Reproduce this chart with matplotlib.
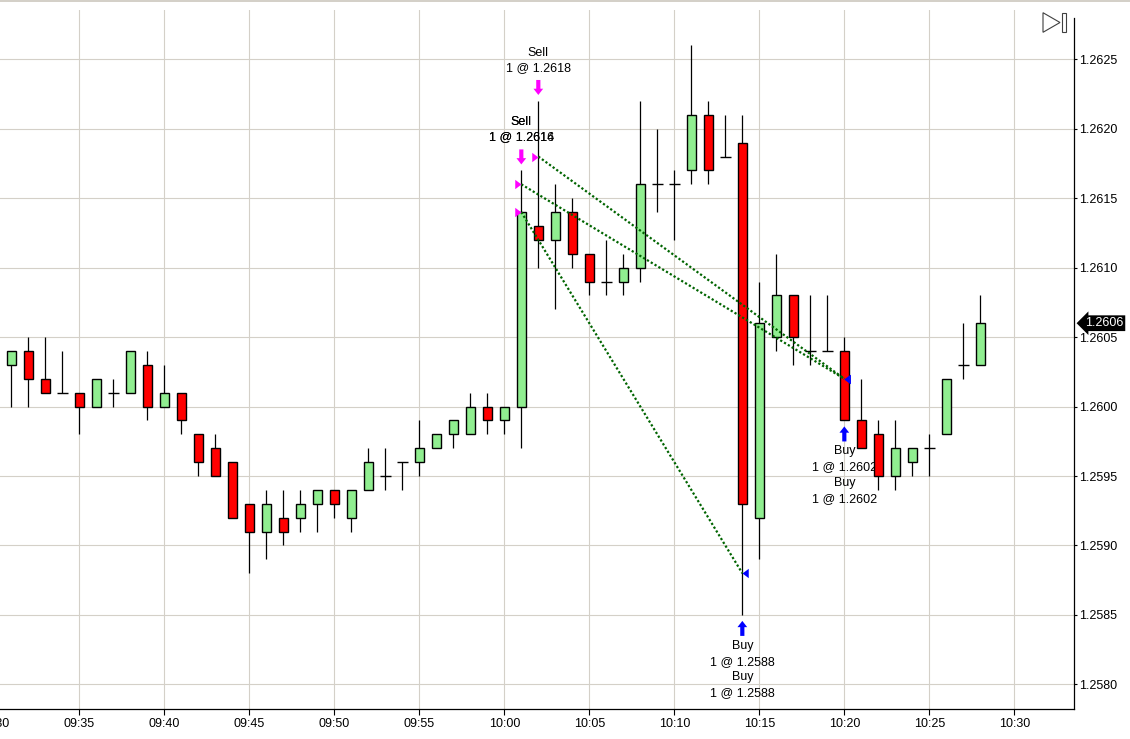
import matplotlib
matplotlib.use('Agg')
import matplotlib.pyplot as plt
from matplotlib import transforms
from matplotlib.patches import Polygon, Rectangle
from matplotlib.ticker import FuncFormatter, FixedLocator

plt.rcParams['font.family'] = ['Liberation Sans', 'DejaVu Sans']

# ---------------- data ----------------
times = ['09:31', '09:32', '09:33', '09:34', '09:35', '09:36', '09:37', '09:38', '09:39', '09:40',
         '09:41', '09:42', '09:43', '09:44', '09:45', '09:46', '09:47', '09:48', '09:49', '09:50',
         '09:51', '09:52', '09:53', '09:54', '09:55', '09:56', '09:57', '09:58', '09:59', '10:00',
         '10:01', '10:02', '10:03', '10:04', '10:05', '10:06', '10:07', '10:08', '10:09', '10:10',
         '10:11', '10:12', '10:13', '10:14', '10:15', '10:16', '10:17', '10:18', '10:19', '10:20',
         '10:21', '10:22', '10:23', '10:24', '10:25', '10:26', '10:27', '10:28']
opens = [1.2603, 1.2604, 1.2602, 1.2601, 1.2601, 1.2600, 1.2601, 1.2601, 1.2603, 1.2600,
         1.2601, 1.2598, 1.2597, 1.2596, 1.2593, 1.2591, 1.2592, 1.2592, 1.2593, 1.2594,
         1.2592, 1.2594, 1.2595, 1.2596, 1.2596, 1.2597, 1.2598, 1.2598, 1.2600, 1.2599,
         1.2600, 1.2613, 1.2612, 1.2614, 1.2611, 1.2609, 1.2609, 1.2610, 1.2616, 1.2616,
         1.2617, 1.2621, 1.2618, 1.2619, 1.2592, 1.2605, 1.2608, 1.2604, 1.2604, 1.2604,
         1.2599, 1.2598, 1.2595, 1.2596, 1.2597, 1.2598, 1.2603, 1.2603]
highs = [1.2604, 1.2605, 1.2605, 1.2604, 1.2601, 1.2602, 1.2602, 1.2604, 1.2604, 1.2603,
         1.2601, 1.2598, 1.2598, 1.2596, 1.2593, 1.2594, 1.2594, 1.2594, 1.2594, 1.2594,
         1.2594, 1.2597, 1.2597, 1.2596, 1.2599, 1.2598, 1.2599, 1.2601, 1.2601, 1.2600,
         1.2617, 1.2622, 1.2616, 1.2615, 1.2611, 1.2612, 1.2611, 1.2622, 1.2620, 1.2617,
         1.2626, 1.2622, 1.2621, 1.2621, 1.2609, 1.2611, 1.2608, 1.2608, 1.2608, 1.2605,
         1.2602, 1.2599, 1.2599, 1.2597, 1.2598, 1.2602, 1.2606, 1.2608]
lows = [1.2600, 1.2600, 1.2601, 1.2601, 1.2598, 1.2600, 1.2600, 1.2601, 1.2599, 1.2600,
        1.2598, 1.2595, 1.2595, 1.2592, 1.2588, 1.2589, 1.2590, 1.2591, 1.2591, 1.2592,
        1.2591, 1.2594, 1.2594, 1.2594, 1.2595, 1.2597, 1.2597, 1.2598, 1.2598, 1.2598,
        1.2597, 1.2610, 1.2607, 1.2610, 1.2608, 1.2608, 1.2608, 1.2609, 1.2614, 1.2612,
        1.2616, 1.2616, 1.2618, 1.2585, 1.2589, 1.2604, 1.2603, 1.2603, 1.2604, 1.2599,
        1.2597, 1.2594, 1.2594, 1.2595, 1.2595, 1.2598, 1.2602, 1.2603]
closes = [1.2604, 1.2602, 1.2601, 1.2601, 1.2600, 1.2602, 1.2601, 1.2604, 1.2600, 1.2601,
          1.2599, 1.2596, 1.2595, 1.2592, 1.2591, 1.2593, 1.2591, 1.2593, 1.2594, 1.2593,
          1.2594, 1.2596, 1.2595, 1.2596, 1.2597, 1.2598, 1.2599, 1.2600, 1.2599, 1.2600,
          1.2614, 1.2612, 1.2614, 1.2611, 1.2609, 1.2609, 1.2610, 1.2616, 1.2616, 1.2616,
          1.2621, 1.2617, 1.2618, 1.2593, 1.2606, 1.2608, 1.2605, 1.2604, 1.2604, 1.2599,
          1.2597, 1.2595, 1.2597, 1.2597, 1.2597, 1.2602, 1.2603, 1.2606]

# trades
entry_times = ['10:01', '10:01', '10:02']
entry_prices = [1.2614, 1.2616, 1.2618]
exit_times = ['10:14', '10:20', '10:20']
exit_prices = [1.2588, 1.2602, 1.2602]

sell_label_times = ['10:01', '10:01', '10:02']
sell_label_prices = [1.2614, 1.2616, 1.2618]
buy_label_times = ['10:14', '10:14', '10:20', '10:20']
buy_label_prices = [1.2588, 1.2588, 1.2602, 1.2602]

x_tick_labels = ['09:30', '09:35', '09:40', '09:45', '09:50', '09:55', '10:00',
                 '10:05', '10:10', '10:15', '10:20', '10:25', '10:30']
y_ticks = [1.2580, 1.2585, 1.2590, 1.2595, 1.2600, 1.2605, 1.2610, 1.2615, 1.2620, 1.2625]


def to_min(s):
    h, m = map(int, s.split(':'))
    return (h - 9) * 60 + m - 30


def fmt_min(v, pos=None):
    v = int(round(v))
    h = 9 + (30 + v) // 60
    m = (30 + v) % 60
    return f'{h:02d}:{m:02d}'


xs = [to_min(t) for t in times]

# ---------------- figure ----------------
W, H = 1130, 739
fig = plt.figure(figsize=(W / 100, H / 100), dpi=100)
ax = fig.add_axes([0, 1 - 709.3 / H, 1074 / W, (709.3 - 10) / H])
ax.set_xlim(0.335, 63.51)
ax.set_ylim(1.2578204, 1.26285493)

GRID = '#D4D0C8'
ax.xaxis.set_major_locator(FixedLocator([to_min(t) for t in x_tick_labels]))
ax.xaxis.set_major_formatter(FuncFormatter(fmt_min))
ax.yaxis.set_major_locator(FixedLocator(y_ticks))
ax.yaxis.set_major_formatter(FuncFormatter(lambda v, p: f'{v:.4f}'))
ax.grid(True, color=GRID, lw=0.8, zorder=0)
ax.set_axisbelow(True)
ax.yaxis.tick_right()
ax.tick_params(axis='y', direction='out', length=2.5, width=0.8, pad=1, labelsize=9, colors='black')
ax.tick_params(axis='x', direction='out', length=4, width=0.8, pad=2, labelsize=9, colors='black')
for s in ['left', 'top']:
    ax.spines[s].set_visible(False)
ax.spines['right'].set_color('black')
ax.spines['bottom'].set_color('black')
ax.spines['right'].set_linewidth(0.9)
ax.spines['bottom'].set_linewidth(0.9)
ax.spines['right'].set_bounds(1.2578204, 1.26280)

# clipped 09:30 label at the far left (same offset as the regular tick labels)
ax.text(to_min('09:30'), 0, '09:30',
        transform=transforms.offset_copy(transforms.blended_transform_factory(ax.transData, ax.transAxes),
                                         fig=fig, x=0, y=-6 * 100 / 72, units='dots'),
        ha='center', va='top', fontsize=9, clip_on=False)

# ---------------- candles ----------------
w = 0.55
ax.vlines(xs, lows, highs, color='black', lw=0.9, zorder=2)
for xi, o, c in zip(xs, opens, closes):
    if abs(c - o) < 1e-9:
        ax.hlines(c, xi - w / 2 - 0.05, xi + w / 2 + 0.05, color='black', lw=1.0, zorder=3)
    else:
        ax.bar(xi, abs(c - o), bottom=min(o, c), width=w,
               color='#90EE90' if c > o else '#FF0000', edgecolor='black', lw=1.0, zorder=3)

# ---------------- trades ----------------
for et, ep, xt, xp in zip(entry_times, entry_prices, exit_times, exit_prices):
    ax.plot([to_min(et), to_min(xt)], [ep, xp], color='#006400', lw=1.6,
            linestyle=(0, (1, 1)), zorder=4)

right_tri = [(-1, 0.75), (0, 0), (-1, -0.75), (-1, 0.75)]
left_tri = [(1, 0.75), (0, 0), (1, -0.75), (1, 0.75)]
ax.plot([to_min(t) for t in entry_times], entry_prices, linestyle='none', marker=right_tri,
        markersize=9, color='#FF00FF', markeredgewidth=0, zorder=5)
ax.plot([to_min(t) for t in exit_times], exit_prices, linestyle='none', marker=left_tri,
        markersize=9, color='#0000FF', markeredgewidth=0, zorder=5)

hi_map = dict(zip(times, highs))
lo_map = dict(zip(times, lows))


def off(dy_px):
    return transforms.offset_copy(ax.transData, fig=fig, x=0, y=dy_px, units='dots')


arrow_style = 'simple,head_length=0.45,head_width=0.7,tail_width=0.3'

# sell arrows + labels
done = set()
for t, p in zip(sell_label_times, sell_label_prices):
    xv = to_min(t)
    hv = hi_map[t]
    if t not in done:
        ax.annotate('', xy=(xv, hv), xycoords=off(6), xytext=(0, 15 * 0.72), textcoords='offset points',
                    arrowprops=dict(arrowstyle=arrow_style, fc='#FF00FF', ec='none',
                                    mutation_scale=10, shrinkA=0, shrinkB=0), zorder=5)
        done.add(t)
    ax.text(xv, hv, f'1 @ {p:.4f}', transform=off(33), ha='center', va='center', fontsize=9, zorder=1.5)
    ax.text(xv, hv, 'Sell', transform=off(48), ha='center', va='center', fontsize=9, zorder=1.5)

# buy arrows + labels (stacked)
counts = {}
for t, p in zip(buy_label_times, buy_label_prices):
    xv = to_min(t)
    lv = lo_map[t]
    k = counts.get(t, 0)
    if k == 0:
        ax.annotate('', xy=(xv, lv), xycoords=off(-6), xytext=(0, -15 * 0.72), textcoords='offset points',
                    arrowprops=dict(arrowstyle=arrow_style, fc='#0000FF', ec='none',
                                    mutation_scale=10, shrinkA=0, shrinkB=0), zorder=5)
    ax.text(xv, lv, 'Buy', transform=off(-31 - 31.5 * k), ha='center', va='center', fontsize=9, zorder=1.5)
    ax.text(xv, lv, f'1 @ {p:.4f}', transform=off(-47 - 31.5 * k), ha='center', va='center', fontsize=9, zorder=1.5)
    counts[t] = k + 1

# last price tag
ax.text(1.0, closes[-1], f'{closes[-1]:.4f}',
        transform=transforms.offset_copy(transforms.blended_transform_factory(ax.transAxes, ax.transData),
                                         fig=fig, x=11, y=0, units='dots'),
        ha='left', va='center', color='white', fontsize=9, clip_on=False, zorder=6,
        bbox=dict(boxstyle='larrow,pad=0.15', fc='black', ec='black', lw=0))


# ---------------- decorations ----------------
def px(xp, yp):
    return (xp / W, 1 - yp / H)


fig.add_artist(Rectangle(px(0, 2), 1, 2 / H, transform=fig.transFigure, color=GRID, lw=0))
fig.add_artist(Polygon([px(1043, 12.7), px(1060, 22.5), px(1043, 32.3)], closed=True, fill=False,
                       ec='#404040', lw=0.8, transform=fig.transFigure))
fig.add_artist(Rectangle(px(1062, 32), 3.5 / W, 19.5 / H, fill=False, ec='#404040', lw=0.8,
                         transform=fig.transFigure))

fig.savefig('out.png', dpi=100)
